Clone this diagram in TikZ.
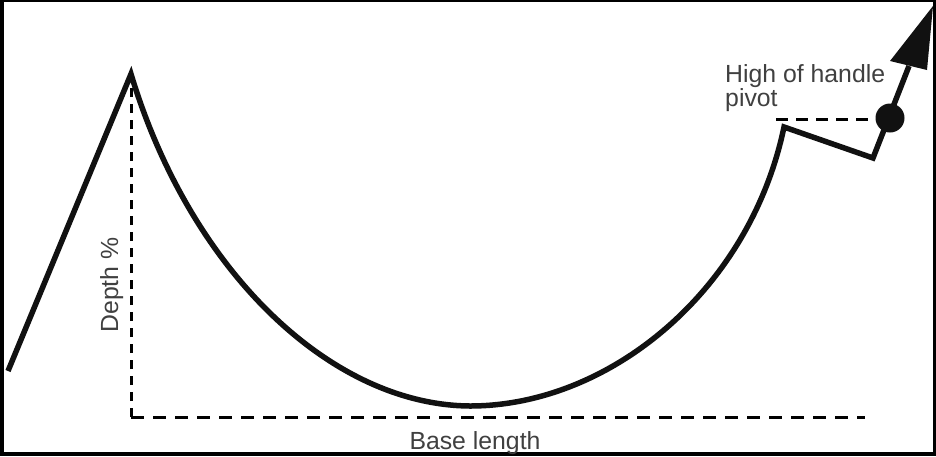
\documentclass[tikz,border=0pt]{standalone}
\usepackage{fontspec}
\setmainfont{Liberation Sans}
\definecolor{ink}{HTML}{111111}
\definecolor{txt}{HTML}{404040}
\begin{document}
\begin{tikzpicture}[x=1pt,y=-1pt,
  curve/.style={line width=5.5pt, draw=ink, line join=miter, miter limit=20},
  guide/.style={line width=3pt, draw=black},
  lbl/.style={text=txt, font=\fontsize{24.8}{19}\selectfont, inner sep=0pt}]
\useasboundingbox (0,0) rectangle (936,456);
\fill[black] (0,0) rectangle (936,456);
\fill[white] (4,1.5) rectangle (933,452);

\coordinate (start) at (8,371);
\coordinate (peak) at (131,74);
\coordinate (bottom) at (470,406);
\coordinate (rim) at (784,127);
\coordinate (hlow) at (873,158);
\coordinate (abase) at (909,66);
\coordinate (tip) at (933,6);
\coordinate (corner) at (131,417);
\coordinate (vtop) at (131,84);
\coordinate (hend) at (865,417);
\coordinate (pstart) at (776,119);
\coordinate (pend) at (878,119);

% guides
\draw[guide, dash pattern=on 9pt off 7pt] (corner) -- (vtop);
\draw[guide, dash pattern=on 13pt off 9pt] (corner) -- (hend);
\draw[guide, dash pattern=on 12pt off 8pt] (pstart) -- (pend);

% cup and handle
\draw[curve] (start) -- (peak)
  .. controls (190,270) and (330,405) .. (bottom)
  .. controls (610,406) and (750,290) .. (rim)
  -- (hlow) -- (abase);
\fill[ink] (tip) -- (890,61) -- (927,70) -- cycle;
\fill[ink] (890,118) circle (14.5pt);

% labels
\node[lbl, anchor=north west, align=left] (pivot) at (725,64) {High of handle\\pivot};
\node[lbl, anchor=base] (base) at (475,449) {Base length};
\node[lbl, anchor=base, rotate=90] (depth) at (118,285) {Depth \%};
\end{tikzpicture}
\end{document}
